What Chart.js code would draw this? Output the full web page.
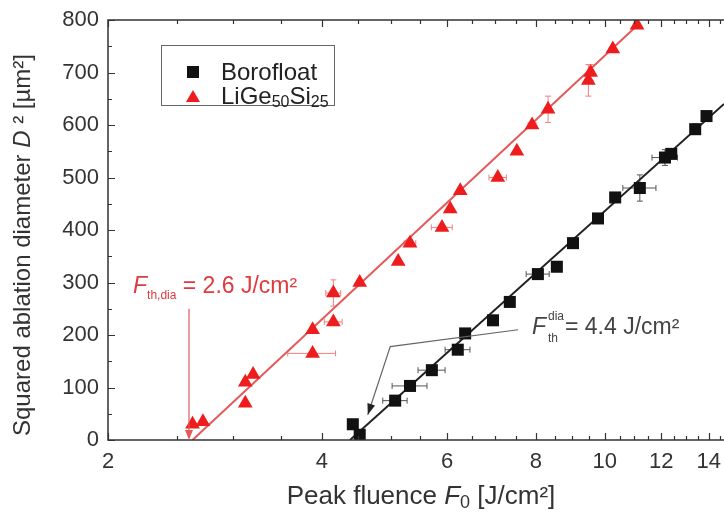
<!DOCTYPE html>
<html>
<head>
<meta charset="utf-8">
<script src="https://cdn.jsdelivr.net/npm/chart.js@4.4.1/dist/chart.umd.min.js"></script>
<style>
  html, body { margin: 0; padding: 0; background: #fff; }
  #wrap { width: 724px; height: 518px; }
</style>
</head>
<body>
<div id="wrap"><canvas id="myChart" width="724" height="518"></canvas></div>
<script>
// LiGe50Si25 (red triangles)
const redX = [2.63, 2.72, 3.12, 3.12, 3.2, 3.88, 3.88, 4.15, 4.15, 4.52, 5.12, 5.32, 5.9, 6.06, 6.26, 7.07, 7.52, 7.9, 8.32, 9.48, 9.55, 10.26, 11.1];
const redY = [30, 35, 70, 110, 125, 165, 210, 225, 280, 300, 340, 375, 405, 440, 475, 500, 550, 600, 630, 685, 700, 745, 790];
const redXErr = [0, 0, 0, 0, 0, 0.3, 0, 0.12, 0.1, 0, 0, 0.1, 0.2, 0, 0, 0.2, 0, 0.1, 0, 0, 0.1, 0, 0];
const redYErr = [0, 0, 0, 0, 0, 0, 0, 0, 25, 0, 0, 0, 0, 0, 0, 0, 0, 0, 25, 30, 15, 0, 0];

// Borofloat (black squares)
const blackX = [4.42, 4.52, 5.07, 5.32, 5.71, 6.21, 6.36, 6.96, 7.35, 8.05, 8.56, 9.02, 9.78, 10.34, 11.2, 12.15, 12.4, 13.4, 13.9];
const blackY = [30, 10, 75, 103, 133, 172, 203, 228, 263, 316, 330, 375, 422, 462, 480, 538, 545, 592, 617];
const blackXErr = [0, 0, 0.2, 0.3, 0.25, 0.25, 0, 0, 0.1, 0.3, 0, 0, 0, 0, 0.6, 0.5, 0, 0, 0];
const blackYErr = [0, 0, 0, 0, 0, 0, 0, 0, 0, 0, 0, 0, 0, 0, 25, 15, 0, 10, 0];

// linear fits (straight on a log x axis)
const redFitX = [2.63, 11.15];
const redFitY = [0, 792];
const blackFitX = [4.38, 14.71];
const blackFitY = [0, 640];

// thresholds and arrow paths (data coords)
const redThreshold = 2.6;
const redArrowTop = 250;
const blackArrowX = [7.55, 4.99, 4.64];
const blackArrowY = [210, 178, 48];

const xTicks = [2, 4, 6, 8, 10, 12, 14];
const xMinorTicks = [2.5, 3, 3.5, 4.5, 5, 5.5, 6.5, 7, 7.5, 8.5, 9, 9.5, 10.5, 11, 11.5, 12.5, 13, 13.5, 14.5];
const yTicks = [0, 100, 200, 300, 400, 500, 600, 700, 800];
const yMinorTicks = [50, 150, 250, 350, 450, 550, 650, 750];

const FONT = "'Liberation Sans', Arial, sans-serif";
const RED = '#ee1c1c';
const RED_LINE = '#e45a5a';
const RED_TEXT = '#e0393e';

function toPoints(xs, ys) {
  return xs.map((x, i) => ({ x: x, y: ys[i] }));
}

// draw text pieces with different fonts one after the other
function drawRuns(ctx, x, y, runs) {
  let cx = x;
  runs.forEach(r => {
    ctx.font = r.font;
    ctx.fillText(r.t, cx, y + (r.dy || 0));
    cx += ctx.measureText(r.t).width;
  });
  return cx;
}
function runsWidth(ctx, runs) {
  let w = 0;
  runs.forEach(r => { ctx.font = r.font; w += ctx.measureText(r.t).width; });
  return w;
}

function arrowHead(ctx, x1, y1, x2, y2, len, wid) {
  const a = Math.atan2(y2 - y1, x2 - x1);
  ctx.beginPath();
  ctx.moveTo(x2, y2);
  ctx.lineTo(x2 - len * Math.cos(a) + wid * Math.sin(a), y2 - len * Math.sin(a) - wid * Math.cos(a));
  ctx.lineTo(x2 - len * Math.cos(a) - wid * Math.sin(a), y2 - len * Math.sin(a) + wid * Math.cos(a));
  ctx.closePath();
  ctx.fill();
}

const errorBars = {
  id: 'errorBars',
  beforeDatasetsDraw(chart) {
    const ctx = chart.ctx, xs = chart.scales.x, ys = chart.scales.y;
    const sets = [
      [redX, redY, redXErr, redYErr, '#f08080'],
      [blackX, blackY, blackXErr, blackYErr, '#555']
    ];
    ctx.save();
    ctx.lineWidth = 1;
    sets.forEach(s => {
      ctx.strokeStyle = s[4];
      s[0].forEach((x, i) => {
        const px = xs.getPixelForValue(x), py = ys.getPixelForValue(s[1][i]);
        if (s[2][i] > 0) {
          const a = xs.getPixelForValue(x - s[2][i]), b = xs.getPixelForValue(x + s[2][i]);
          ctx.beginPath();
          ctx.moveTo(a, py); ctx.lineTo(b, py);
          ctx.moveTo(a, py - 3); ctx.lineTo(a, py + 3);
          ctx.moveTo(b, py - 3); ctx.lineTo(b, py + 3);
          ctx.stroke();
        }
        if (s[3][i] > 0) {
          const a = ys.getPixelForValue(s[1][i] - s[3][i]), b = ys.getPixelForValue(s[1][i] + s[3][i]);
          ctx.beginPath();
          ctx.moveTo(px, a); ctx.lineTo(px, b);
          ctx.moveTo(px - 3, a); ctx.lineTo(px + 3, a);
          ctx.moveTo(px - 3, b); ctx.lineTo(px + 3, b);
          ctx.stroke();
        }
      });
    });
    ctx.restore();
  }
};

// frame, inward ticks and tick labels
const axesDecor = {
  id: 'axesDecor',
  afterDatasetsDraw(chart) {
    const ctx = chart.ctx, xs = chart.scales.x, ys = chart.scales.y;
    const L = ys.right, R = xs.right, T = ys.top, B = ys.bottom;
    ctx.save();
    ctx.strokeStyle = '#333';
    ctx.lineWidth = 1.5;
    ctx.beginPath();
    ctx.moveTo(R, T);
    ctx.lineTo(L, T);
    ctx.lineTo(L, B);
    ctx.lineTo(R, B);
    ctx.stroke();

    ctx.lineWidth = 1.2;
    ctx.beginPath();
    xTicks.concat(xMinorTicks).forEach(v => {
      const len = xTicks.indexOf(v) >= 0 ? 7 : 4;
      const px = Math.round(xs.getPixelForValue(v)) + 0.5;
      ctx.moveTo(px, B);
      ctx.lineTo(px, B - len);
      ctx.moveTo(px, T);
      ctx.lineTo(px, T + len);
    });
    yTicks.concat(yMinorTicks).forEach(v => {
      const len = yTicks.indexOf(v) >= 0 ? 7 : 4;
      const py = Math.round(ys.getPixelForValue(v)) + 0.5;
      ctx.moveTo(L, py);
      ctx.lineTo(L + len, py);
    });
    ctx.stroke();

    ctx.fillStyle = '#333';
    ctx.font = '22px ' + FONT;
    ctx.textBaseline = 'middle';
    ctx.textAlign = 'center';
    xTicks.forEach(v => ctx.fillText(String(v), xs.getPixelForValue(v), B + 22));
    ctx.textAlign = 'right';
    yTicks.forEach(v => ctx.fillText(String(v), L - 9, ys.getPixelForValue(v)));
    ctx.restore();
  }
};

const decor = {
  id: 'decor',
  afterDraw(chart) {
    const ctx = chart.ctx, xs = chart.scales.x, ys = chart.scales.y;
    const a = chart.chartArea;
    ctx.save();

    // axis titles
    ctx.fillStyle = '#333';
    ctx.textBaseline = 'middle';
    ctx.textAlign = 'left';
    const xt = [
      { t: 'Peak fluence ', font: '26px ' + FONT },
      { t: 'F', font: 'italic 26px ' + FONT },
      { t: '0', font: '18px ' + FONT, dy: 6 },
      { t: ' [J/cm²]', font: '26px ' + FONT }
    ];
    drawRuns(ctx, 421 - runsWidth(ctx, xt) / 2, 497, xt);

    const yt = [
      { t: 'Squared ablation diameter ', font: '24px ' + FONT },
      { t: 'D', font: 'italic 24px ' + FONT },
      { t: ' ²', font: '24px ' + FONT },
      { t: ' [µm²]', font: '24px ' + FONT }
    ];
    ctx.save();
    ctx.translate(23, 245);
    ctx.rotate(-Math.PI / 2);
    drawRuns(ctx, -runsWidth(ctx, yt) / 2, 0, yt);
    ctx.restore();

    // legend box
    ctx.strokeStyle = '#666';
    ctx.lineWidth = 1;
    ctx.strokeRect(161.5, 45.5, 173, 60);
    ctx.fillStyle = '#111';
    ctx.fillRect(187, 66, 12, 12);
    ctx.fillStyle = RED;
    ctx.beginPath();
    ctx.moveTo(193, 90); ctx.lineTo(200, 102); ctx.lineTo(186, 102); ctx.closePath();
    ctx.fill();
    ctx.fillStyle = '#222';
    drawRuns(ctx, 221, 73, [{ t: 'Borofloat', font: '24px ' + FONT }]);
    drawRuns(ctx, 221, 97, [
      { t: 'LiGe', font: '24px ' + FONT },
      { t: '50', font: '16px ' + FONT, dy: 6 },
      { t: 'Si', font: '24px ' + FONT },
      { t: '25', font: '16px ' + FONT, dy: 6 }
    ]);

    // red threshold arrow
    const rx = xs.getPixelForValue(redThreshold);
    const rTop = ys.getPixelForValue(redArrowTop);
    ctx.strokeStyle = RED_LINE;
    ctx.fillStyle = RED_LINE;
    ctx.lineWidth = 1.2;
    ctx.beginPath();
    ctx.moveTo(rx, rTop); ctx.lineTo(rx, a.bottom - 6);
    ctx.stroke();
    arrowHead(ctx, rx, rTop, rx, a.bottom, 10, 4);

    ctx.fillStyle = RED_TEXT;
    drawRuns(ctx, 133, 287, [
      { t: 'F', font: 'italic 23px ' + FONT },
      { t: 'th,dia', font: '12px ' + FONT, dy: 9 },
      { t: ' = 2.6 J/cm²', font: '23px ' + FONT }
    ]);

    // black threshold arrow
    const bp = blackArrowX.map((x, i) => [xs.getPixelForValue(x), ys.getPixelForValue(blackArrowY[i])]);
    ctx.strokeStyle = '#666';
    ctx.lineWidth = 1.2;
    ctx.beginPath();
    ctx.moveTo(bp[0][0], bp[0][1]);
    ctx.lineTo(bp[1][0], bp[1][1]);
    ctx.lineTo(bp[2][0], bp[2][1]);
    ctx.stroke();
    ctx.fillStyle = '#222';
    arrowHead(ctx, bp[1][0], bp[1][1], bp[2][0], bp[2][1], 11, 4);

    ctx.fillStyle = '#444';
    ctx.font = 'italic 23px ' + FONT;
    ctx.fillText('F', 532, 328);
    ctx.font = '12px ' + FONT;
    ctx.fillText('dia', 548, 317);
    ctx.fillText('th', 548, 339);
    drawRuns(ctx, 565, 328, [{ t: '= 4.4 J/cm²', font: '23px ' + FONT }]);

    ctx.restore();
  }
};

new Chart(document.getElementById('myChart'), {
  type: 'scatter',
  data: {
    datasets: [
      {
        label: 'Borofloat',
        data: toPoints(blackX, blackY),
        pointStyle: 'rect',
        pointRadius: 8.5,
        backgroundColor: '#111',
        borderColor: '#111',
        borderWidth: 0,
        order: 1
      },
      {
        label: 'LiGe50Si25',
        data: toPoints(redX, redY),
        pointStyle: 'triangle',
        pointRadius: 8.5,
        backgroundColor: RED,
        borderColor: RED,
        borderWidth: 0,
        order: 1
      },
      {
        label: 'fit red',
        data: toPoints(redFitX, redFitY),
        showLine: true,
        pointRadius: 0,
        borderColor: RED_LINE,
        borderWidth: 2,
        order: 2
      },
      {
        label: 'fit black',
        data: toPoints(blackFitX, blackFitY),
        showLine: true,
        pointRadius: 0,
        borderColor: '#222',
        borderWidth: 2,
        order: 2
      }
    ]
  },
  options: {
    responsive: false,
    animation: false,
    devicePixelRatio: 1,
    layout: { autoPadding: false, padding: { top: 20, right: 0, left: 0, bottom: 0 } },
    plugins: {
      legend: { display: false },
      tooltip: { enabled: false },
      title: { display: false }
    },
    scales: {
      x: {
        type: 'logarithmic',
        min: 2,
        max: 14.71,
        grid: { display: false, drawTicks: false },
        border: { display: false },
        ticks: { display: false },
        afterFit: s => { s.height = 78; }
      },
      y: {
        min: 0,
        max: 800,
        grid: { display: false, drawTicks: false },
        border: { display: false },
        ticks: { display: false },
        afterFit: s => { s.width = 108; }
      }
    }
  },
  plugins: [errorBars, axesDecor, decor]
});
</script>
</body>
</html>
